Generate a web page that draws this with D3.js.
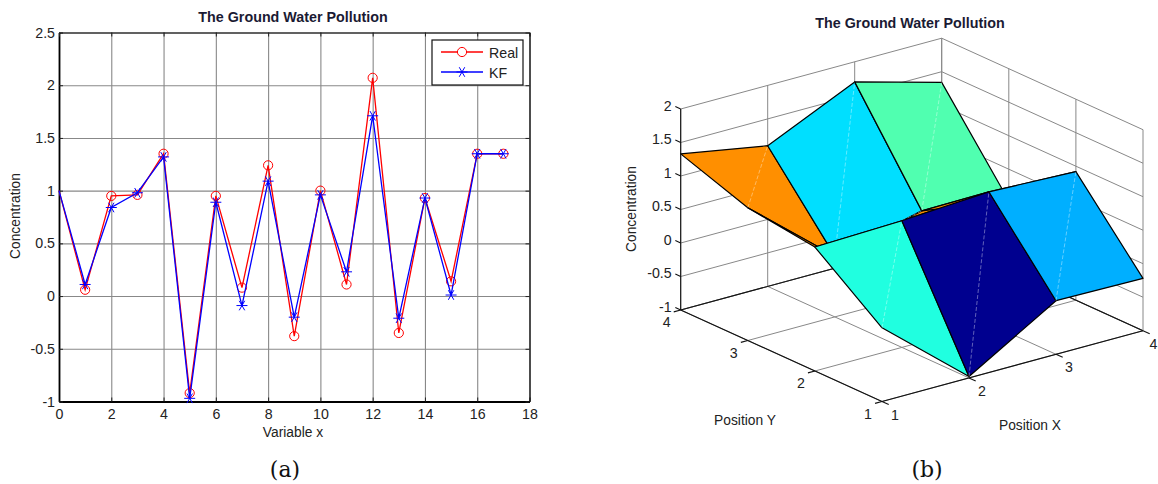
<!DOCTYPE html>
<html>
  <head>
    <meta charset="utf-8">
    <title>The Ground Water Pollution</title>
    <style media="screen">
      body { margin: 0; background: white; }
      text { font-family: "Liberation Sans", sans-serif; fill: #222; }
      .title { font-weight: bold; font-size: 14.3px; fill: #1a1a33; text-anchor: middle; }
      .label { font-size: 13.8px; text-anchor: middle; }
      .tick-label { font-size: 14.2px; }
      .caption { font-family: "DejaVu Serif", serif; font-size: 22px; text-anchor: middle; fill: #111; }
      .grid path { stroke: none; }
      .grid line { stroke: #888; stroke-width: 1.1; }
      .frame path { fill: none; stroke: black; stroke-width: 1.2; }
      .frame line { stroke: #222; }
      .thick path { stroke-width: 1.8; }
      .line { fill: none; stroke-width: 1.3; }
      .wall { stroke: #888; stroke-width: 1; fill: none; }
      .edge { stroke: #111; stroke-width: 1.1; fill: none; }
      .face { stroke: black; stroke-width: 1.2; stroke-linejoin: round; }
      .diag { stroke: white; stroke-opacity: 0.55; stroke-width: 0.7; stroke-dasharray: 4 2; }
    </style>
    <script src="https://d3js.org/d3.v7.min.js"></script>
  </head>
  <body>
    <script type="text/javascript">

      const xValues = d3.range(0, 18);
      const real = [1, 0.06, 0.95, 0.96, 1.35, -0.92, 0.95, 0.08, 1.24, -0.38, 1.0, 0.11, 2.07, -0.35, 0.93, 0.14, 1.35, 1.35];
      const kf = [1, 0.11, 0.84, 0.98, 1.32, -0.97, 0.89, -0.09, 1.09, -0.2, 0.96, 0.23, 1.71, -0.21, 0.93, 0.01, 1.35, 1.35];
      const xTicks = [0, 2, 4, 6, 8, 10, 12, 14, 16, 18];
      const yTicks = [-1, -0.5, 0, 0.5, 1, 1.5, 2, 2.5];

      // surface heights, one row per Position Y (1 to 4), columns are Position X (1 to 4)
      const posTicks = [1, 2, 3, 4];
      const zTicks = [-1, -0.5, 0, 0.5, 1, 1.5, 2];
      const surfaceY1 = [0.10, -0.98, -0.20, -0.22];
      const surfaceY2 = [0.85, 0.89, 0.97, 0.92];
      const surfaceY3 = [0.98, -0.09, 0.23, 0.03];
      const surfaceY4 = [1.33, 1.10, 1.70, 1.34];
      const faceColorsY1 = ['#20ffe0', '#00008f', '#00afff'];
      const faceColorsY2 = ['#e07c00', '#ff8f00', '#ff8f00'];
      const faceColorsY3 = ['#ff8f00', '#00dfff', '#50ffb0'];

      const surface = [surfaceY1, surfaceY2, surfaceY3, surfaceY4];
      const faceColors = [faceColorsY1, faceColorsY2, faceColorsY3];

      const svg = d3.select('body')
        .append('svg')
          .attr('width', 1158)
          .attr('height', 484)
          .style('display', 'block');

      // (a) line chart
      const plot = { left: 59, right: 529.5, top: 32.5, bottom: 401.5 };
      const width = plot.right - plot.left;
      const height = plot.bottom - plot.top;

      const x = d3.scaleLinear().domain([0, 18]).range([plot.left, plot.right]);
      const y = d3.scaleLinear().domain([-1, 2.5]).range([plot.bottom, plot.top]);

      svg.append('g').attr('class', 'grid')
        .attr('transform', `translate(0, ${plot.bottom})`)
        .call(d3.axisBottom(x).tickValues(xTicks).tickSize(-height).tickFormat(''));
      svg.append('g').attr('class', 'grid')
        .attr('transform', `translate(${plot.left}, 0)`)
        .call(d3.axisLeft(y).tickValues(yTicks).tickSize(-width).tickFormat(''));

      svg.append('g').attr('class', 'frame thick tick-label')
        .attr('transform', `translate(0, ${plot.bottom})`)
        .call(d3.axisBottom(x).tickValues(xTicks).tickSize(-4).tickSizeOuter(0).tickPadding(7))
        .call(g => g.attr('font-size', null).attr('font-family', null));
      svg.append('g').attr('class', 'frame thick tick-label')
        .attr('transform', `translate(${plot.left}, 0)`)
        .call(d3.axisLeft(y).tickValues(yTicks).tickSize(-4).tickSizeOuter(0).tickPadding(4).tickFormat(String))
        .call(g => g.attr('font-size', null).attr('font-family', null));
      svg.append('g').attr('class', 'frame')
        .attr('transform', `translate(0, ${plot.top})`)
        .call(d3.axisTop(x).tickValues(xTicks).tickSize(-4).tickSizeOuter(0).tickFormat(''));
      svg.append('g').attr('class', 'frame')
        .attr('transform', `translate(${plot.right}, 0)`)
        .call(d3.axisRight(y).tickValues(yTicks).tickSize(-4).tickSizeOuter(0).tickFormat(''));

      const line = d3.line().x((d, i) => x(xValues[i])).y(d => y(d));
      const star = d3.symbol().type(d3.symbolAsterisk).size(85)();

      function addStar(sel) {
        sel.append('path').attr('d', star).attr('transform', 'rotate(90)')
          .attr('fill', 'none').attr('stroke', 'blue').attr('stroke-width', 1);
      }

      // the first point sits on the left axis and shows no marker in the reference
      svg.append('path').datum(real).attr('class', 'line').attr('stroke', 'red').attr('d', line);
      svg.selectAll('.real').data(real.slice(1)).enter().append('circle')
        .attr('class', 'real')
        .attr('cx', (d, i) => x(xValues[i + 1]))
        .attr('cy', d => y(d))
        .attr('r', 4.6)
        .attr('fill', 'none')
        .attr('stroke', 'red');

      svg.append('path').datum(kf).attr('class', 'line').attr('stroke', 'blue').attr('d', line);
      svg.selectAll('.kf').data(kf.slice(1)).enter().append('g')
        .attr('class', 'kf')
        .attr('transform', (d, i) => `translate(${x(xValues[i + 1])}, ${y(d)})`)
        .call(addStar);

      // legend
      const legend = svg.append('g').attr('transform', 'translate(432, 40)');
      legend.append('rect').attr('width', 91).attr('height', 45)
        .attr('fill', 'white').attr('stroke', '#111').attr('stroke-width', 1.2);
      legend.append('line').attr('x1', 9).attr('x2', 51).attr('y1', 12).attr('y2', 12).attr('stroke', 'red').attr('stroke-width', 1.3);
      legend.append('circle').attr('cx', 30).attr('cy', 12).attr('r', 4.6).attr('fill', 'white').attr('stroke', 'red');
      legend.append('line').attr('x1', 9).attr('x2', 51).attr('y1', 32).attr('y2', 32).attr('stroke', 'blue').attr('stroke-width', 1.3);
      legend.append('g').attr('transform', 'translate(30, 32)').call(addStar);
      legend.append('text').attr('class', 'tick-label').attr('x', 57).attr('y', 18).text('Real');
      legend.append('text').attr('class', 'tick-label').attr('x', 57).attr('y', 38).text('KF');

      svg.append('text').attr('class', 'title').attr('x', 293).attr('y', 22).text('The Ground Water Pollution');
      svg.append('text').attr('class', 'label').attr('x', 293).attr('y', 437).text('Variable x');
      svg.append('text').attr('class', 'label').attr('transform', 'translate(20, 216) rotate(-90)').text('Concentration');
      svg.append('text').attr('class', 'caption').attr('x', 285).attr('y', 477).text('(a)');

      // (b) surface, straight linear projection of the three axes
      const xToScreenX = d3.scaleLinear().domain([1, 4]).range([0, 261]);
      const xToScreenY = d3.scaleLinear().domain([1, 4]).range([0, -70.8]);
      const yToScreenX = d3.scaleLinear().domain([1, 4]).range([201.3, 0]);
      const yToScreenY = d3.scaleLinear().domain([1, 4]).range([91.5, 0]);
      const zToScreenY = d3.scaleLinear().domain([-1, 2]).range([310, 109]);

      function project(px, py, pz) {
        return [680.7 + xToScreenX(px) + yToScreenX(py), zToScreenY(pz) + xToScreenY(px) + yToScreenY(py)];
      }

      const view = svg.append('g');

      function seg(cls, a, b) {
        const p = project(...a), q = project(...b);
        view.append('line').attr('class', cls)
          .attr('x1', p[0]).attr('y1', p[1]).attr('x2', q[0]).attr('y2', q[1]);
      }

      // back walls and floor
      zTicks.forEach(z => {
        seg('wall', [1, 4, z], [4, 4, z]);
        seg('wall', [4, 4, z], [4, 1, z]);
      });
      posTicks.forEach(t => {
        seg('wall', [t, 4, -1], [t, 4, 2]);
        seg('wall', [4, t, -1], [4, t, 2]);
        seg('wall', [t, 1, -1], [t, 4, -1]);
        seg('wall', [1, t, -1], [4, t, -1]);
      });

      // axes and ticks
      seg('edge', [1, 4, -1], [1, 4, 2]);
      seg('edge', [1, 1, -1], [1, 4, -1]);
      seg('edge', [1, 1, -1], [4, 1, -1]);
      seg('edge', [1, 4, -1], [4, 4, -1]);
      seg('edge', [4, 1, -1], [4, 4, -1]);
      zTicks.forEach(z => seg('edge', [1, 4, z], [1, 4.08, z]));
      posTicks.forEach(t => {
        seg('edge', [t, 1, -1], [t, 0.9, -1]);
        seg('edge', [1, t, -1], [0.92, t, -1]);
      });

      // surface faces, drawn from the back row to the front row
      const faces = [];
      d3.range(2, -1, -1).forEach(r => {
        d3.range(0, 3).forEach(c => {
          faces.push({
            color: faceColors[r][c],
            pts: [
              project(posTicks[c], posTicks[r], surface[r][c]),
              project(posTicks[c + 1], posTicks[r], surface[r][c + 1]),
              project(posTicks[c + 1], posTicks[r + 1], surface[r + 1][c + 1]),
              project(posTicks[c], posTicks[r + 1], surface[r + 1][c])
            ]
          });
        });
      });

      const faceGroups = view.selectAll('.facegroup').data(faces).enter().append('g').attr('class', 'facegroup');
      faceGroups.append('path')
        .attr('class', 'face')
        .attr('fill', d => d.color)
        .attr('d', d => d3.line()(d.pts) + 'Z');
      faceGroups.append('line')
        .attr('class', 'diag')
        .attr('x1', d => d.pts[0][0])
        .attr('y1', d => d.pts[0][1])
        .attr('x2', d => d.pts[2][0])
        .attr('y2', d => d.pts[2][1]);

      // tick labels of the surface, the last X label is pulled in so it stays on the page
      zTicks.forEach(z => {
        const p = project(1, 4, z);
        svg.append('text').attr('class', 'tick-label').attr('text-anchor', 'end')
          .attr('x', p[0] - 9).attr('y', p[1] + 1.5).text(z);
      });
      posTicks.forEach(t => {
        const p = project(t, 1, -1);
        svg.append('text').attr('class', 'tick-label').attr('text-anchor', 'middle')
          .attr('x', Math.min(p[0] + 13, 1153.5)).attr('y', p[1] + 18).text(t);
        const q = project(1, t, -1);
        svg.append('text').attr('class', 'tick-label').attr('text-anchor', 'middle')
          .attr('x', q[0] - 14).attr('y', q[1] + 17).text(t);
      });

      svg.append('text').attr('class', 'title').attr('x', 910).attr('y', 28).text('The Ground Water Pollution');
      svg.append('text').attr('class', 'label').attr('x', 745).attr('y', 425).text('Position Y');
      svg.append('text').attr('class', 'label').attr('x', 1030).attr('y', 430).text('Position X');
      svg.append('text').attr('class', 'label').attr('transform', 'translate(636, 209) rotate(-90)').text('Concentration');
      svg.append('text').attr('class', 'caption').attr('x', 927).attr('y', 477).text('(b)');
    </script>
  </body>
</html>
